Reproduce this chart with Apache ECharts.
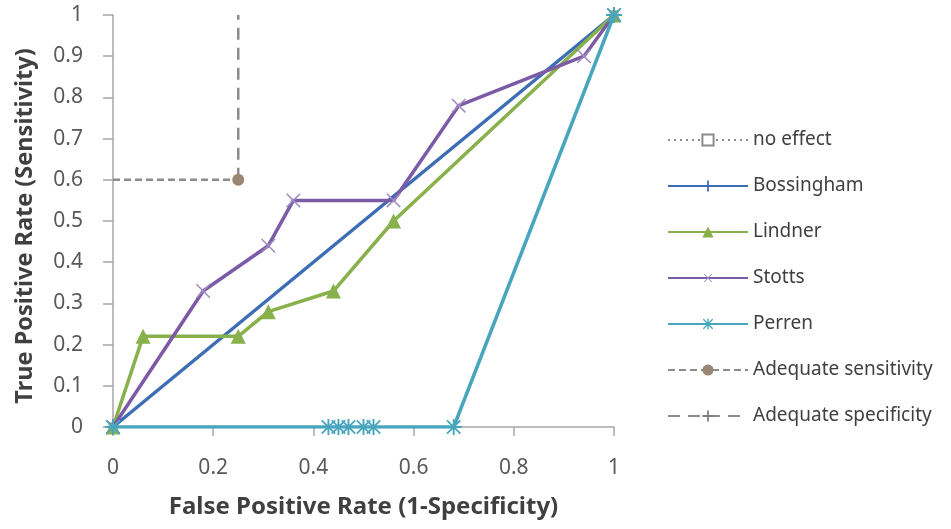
<!DOCTYPE html>
<html>
<head>
<meta charset="utf-8">
<script src="https://cdn.jsdelivr.net/npm/echarts@6/dist/echarts.min.js"></script>
<style>
  html, body { margin: 0; padding: 0; background: #fff; }
  #chart { width: 951px; height: 529px; }
</style>
</head>
<body>
<div id="chart"></div>
<script>
// ROC curves: false positive rate (x) against true positive rate (y)
const axisTicks = [0, 0.2, 0.4, 0.6, 0.8, 1];

const noEffectX = [0, 1];
const noEffectY = [0, 1];

const bossinghamX = [0, 1];
const bossinghamY = [0, 1];

const lindnerX = [0, 0.06, 0.25, 0.31, 0.44, 0.56, 1];
const lindnerY = [0, 0.22, 0.22, 0.28, 0.33, 0.5, 1];

const stottsX = [0, 0.18, 0.31, 0.36, 0.56, 0.69, 0.94, 1];
const stottsY = [0, 0.33, 0.44, 0.55, 0.55, 0.78, 0.9, 1];

const perrenX = [0, 0.43, 0.45, 0.47, 0.5, 0.52, 0.68, 1];
const perrenY = [0, 0, 0, 0, 0, 0, 0, 1];

// threshold guides meeting at the target operating point
const sensitivityX = [0, 0.25];
const sensitivityY = [0.6, 0.6];

const specificityX = [0.25, 0.25];
const specificityY = [0.6, 1];

const pairs = (xs, ys) => xs.map((x, i) => [x, ys[i]]);

// marker shapes
const plusPath = 'path://M4.2,0H5.8V4.2H10V5.8H5.8V10H4.2V5.8H0V4.2H4.2Z';
const thinCross = 'path://M4.6,0H5.4V4.6H10V5.4H5.4V10H4.6V5.4H0V4.6H4.6Z';
const starPath = 'path://M4.4,0H5.6V4.4H10V5.6H5.6V10H4.4V5.6H0V4.4H4.4Z' +
  'M1.2,0.4L5,4.2L8.8,0.4L9.6,1.2L5.8,5L9.6,8.8L8.8,9.6L5,5.8L1.2,9.6L0.4,8.8L4.2,5L0.4,1.2Z';

const font = '"Noto Sans", "Open Sans", sans-serif';
const axisColor = '#a6a6a6';
const labelColor = '#595959';
const titleColor = '#404040';

const chart = echarts.init(document.getElementById('chart'));
chart.setOption({
  animation: false,
  backgroundColor: '#ffffff',
  grid: { left: 113, right: 337, top: 15, bottom: 102 },
  legend: {
    orient: 'vertical',
    left: 662,
    top: 125,
    itemWidth: 80,
    itemHeight: 14,
    itemGap: 26,
    textStyle: { fontFamily: font, fontSize: 19, lineHeight: 20, color: titleColor },
    data: ['no effect', 'Bossingham', 'Lindner', 'Stotts', 'Perren',
      'Adequate sensitivity', 'Adequate specificity']
  },
  xAxis: {
    type: 'value',
    min: 0, max: 1, interval: 0.2,
    name: 'False Positive Rate (1-Specificity)',
    nameLocation: 'middle',
    nameGap: 68,
    nameTextStyle: { fontFamily: font, fontSize: 24, fontWeight: 'bold', color: titleColor },
    axisLine: { show: true, lineStyle: { color: axisColor, width: 1.5 } },
    axisTick: { show: true, length: 9, lineStyle: { color: axisColor, width: 1.5 } },
    axisLabel: {
      fontFamily: font, fontSize: 21, color: labelColor, margin: 31,
      formatter: v => axisTicks.includes(+v.toFixed(1)) ? String(+v.toFixed(1)) : ''
    },
    splitLine: { show: false }
  },
  yAxis: {
    type: 'value',
    min: 0, max: 1, interval: 0.1,
    name: 'True Positive Rate (Sensitivity)',
    nameLocation: 'middle',
    nameGap: 76,
    nameTextStyle: {
      fontFamily: font, fontSize: 23.5, fontWeight: 'bold', color: titleColor,
      padding: [0, 10, 0, 0]
    },
    axisLine: { show: true, lineStyle: { color: axisColor, width: 1.5 } },
    axisTick: { show: true, length: 10, lineStyle: { color: axisColor, width: 1.5 } },
    axisLabel: {
      fontFamily: font, fontSize: 21, color: labelColor, margin: 30,
      formatter: v => String(+v.toFixed(1))
    },
    splitLine: { show: false }
  },
  series: [
    {
      name: 'no effect', type: 'line', z: 1,
      data: pairs(noEffectX, noEffectY),
      symbol: 'rect', symbolSize: 8,
      itemStyle: { color: '#ffffff', borderColor: '#8c8c8c', borderWidth: 1 },
      lineStyle: { color: '#8c8c8c', width: 2, type: [2, 4] }
    },
    {
      name: 'Bossingham', type: 'line', z: 3,
      data: pairs(bossinghamX, bossinghamY),
      symbol: plusPath, symbolSize: 10,
      itemStyle: { color: '#3d6db5' },
      lineStyle: { color: '#3d6db5', width: 3.5 }
    },
    {
      name: 'Lindner', type: 'line', z: 4,
      data: pairs(lindnerX, lindnerY),
      symbol: 'triangle', symbolSize: 15,
      itemStyle: { color: '#88b04b' },
      lineStyle: { color: '#88b04b', width: 3.5 }
    },
    {
      name: 'Stotts', type: 'line', z: 5,
      data: pairs(stottsX, stottsY),
      symbol: thinCross, symbolSize: 19, symbolRotate: 45,
      itemStyle: { color: '#9f8cc0' },
      lineStyle: { color: '#7b5aa6', width: 3.5 }
    },
    {
      name: 'Perren', type: 'line', z: 6,
      data: pairs(perrenX, perrenY),
      symbol: starPath, symbolSize: 16,
      itemStyle: { color: '#47a6bd' },
      lineStyle: { color: '#47a6bd', width: 3.5 }
    },
    {
      name: 'Adequate sensitivity', type: 'line', z: 2,
      data: pairs(sensitivityX, sensitivityY).map((p, i) =>
        i === 0 ? { value: p, symbol: 'none' } : { value: p }),
      symbol: 'circle', symbolSize: 12,
      itemStyle: { color: '#9a8672' },
      lineStyle: { color: '#8c8c8c', width: 2.5, type: [7, 4] }
    },
    {
      name: 'Adequate specificity', type: 'line', z: 2,
      data: pairs(specificityX, specificityY),
      symbol: plusPath, symbolSize: 9,
      showSymbol: false,
      itemStyle: { color: '#7f7f7f' },
      lineStyle: { color: '#8c8c8c', width: 2.5, type: [12, 8] }
    }
  ]
});
</script>
</body>
</html>
